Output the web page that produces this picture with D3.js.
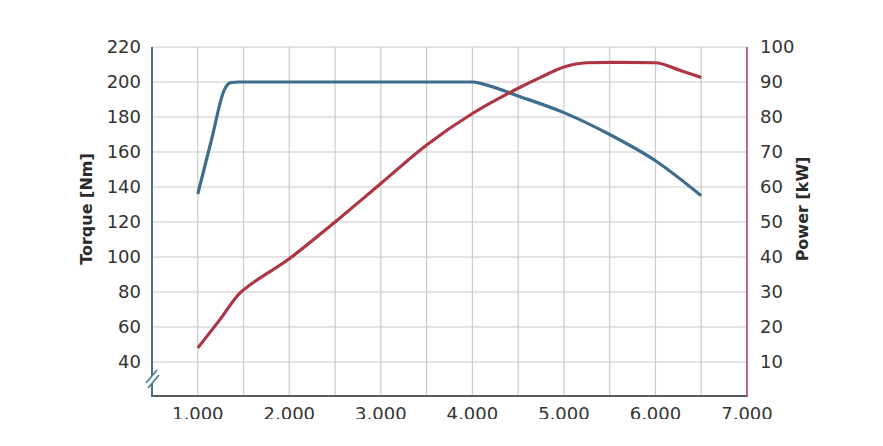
<!DOCTYPE html>
<html>
<head>
<meta charset="utf-8">
<script src="https://cdn.jsdelivr.net/npm/d3@7"></script>
<style>
  html, body { margin: 0; padding: 0; background: #ffffff; }
  svg { display: block; }
</style>
</head>
<body>
<svg id="chart" width="883" height="446"></svg>
<script>
// ---- data ----
const torqueRpm = [1000, 1150, 1290, 1360, 1450, 4000, 4120, 4500, 5000, 5500, 6000, 6500];
const torqueNm  = [136, 167, 195.5, 199.6, 200, 200, 198.8, 192, 182.5, 170, 155, 135];
const powerRpm  = [1000, 1250, 1460, 1500, 2000, 2500, 3000, 3500, 4000, 4500, 4750, 5000, 5250, 5500, 6000, 6250, 6500];
const powerKw   = [14, 22.4, 29.7, 30.6, 39.5, 50, 61, 72, 81, 88.2, 91.4, 94.3, 95.5, 95.6, 95.5, 93.5, 91.3];
const xTicks = [1000, 2000, 3000, 4000, 5000, 6000, 7000];
const xTickLabels = ["1,000", "2,000", "3,000", "4,000", "5,000", "6,000", "7,000"];
const torqueTicks = [40, 60, 80, 100, 120, 140, 160, 180, 200, 220];
const powerTicks = [10, 20, 30, 40, 50, 60, 70, 80, 90, 100];
const xGrid = d3.range(1000, 7001, 500);
const leftTitle = "Torque [Nm]";
const rightTitle = "Power [kW]";

(function () {
// ---- layout ----
const svg = d3.select("#chart");
const pL = 152, pR = 747, pT = 47, pB = 397;
const x = d3.scaleLinear().domain([500, 7000]).range([pL, pR]);
const yT = d3.scaleLinear().domain([20, 220]).range([pB, pT]);
const yP = d3.scaleLinear().domain([0, 100]).range([pB, pT]);

const font = "'DejaVu Sans', sans-serif";

// grid
const g = svg.append("g");
g.selectAll("line.v").data(xGrid).enter().append("line")
  .attr("x1", d => x(d)).attr("x2", d => x(d))
  .attr("y1", pT).attr("y2", pB)
  .attr("stroke", "#cacaca").attr("stroke-width", 1.2);
g.selectAll("line.h").data(torqueTicks).enter().append("line")
  .attr("x1", pL).attr("x2", pR)
  .attr("y1", d => yT(d)).attr("y2", d => yT(d))
  .attr("stroke", "#cacaca").attr("stroke-width", 1.2);

// axes lines
svg.append("line").attr("x1", pL).attr("x2", pR).attr("y1", pB - 1).attr("y2", pB - 1)
  .attr("stroke", "#5a5a5a").attr("stroke-width", 2);
svg.append("line").attr("x1", pL).attr("x2", pL).attr("y1", pT).attr("y2", pB)
  .attr("stroke", "#4d6f88").attr("stroke-width", 2);
svg.append("line").attr("x1", pR).attr("x2", pR).attr("y1", pT).attr("y2", pB)
  .attr("stroke", "#b4525e").attr("stroke-width", 1.6);

// axis break marks
const bm = svg.append("g");
bm.append("polygon").attr("points", `${pL-6},384 ${pL+6},369 ${pL+8},373 ${pL-4},388`).attr("fill", "#ffffff");
bm.append("line").attr("x1", pL - 6).attr("y1", 383).attr("x2", pL + 5).attr("y2", 370)
  .attr("stroke", "#4b8597").attr("stroke-width", 1.8);
bm.append("line").attr("x1", pL - 4).attr("y1", 388).attr("x2", pL + 7).attr("y2", 375)
  .attr("stroke", "#4b8597").attr("stroke-width", 1.8);

// tick labels
svg.selectAll("text.lt").data(torqueTicks).enter().append("text")
  .attr("x", 141).attr("y", d => yT(d)).attr("dy", "0.36em")
  .attr("text-anchor", "end").attr("font-family", font).attr("font-size", 18)
  .attr("fill", "#333333").text(d => d);
svg.selectAll("text.rt").data(powerTicks).enter().append("text")
  .attr("x", 760).attr("y", d => yP(d)).attr("dy", "0.36em")
  .attr("text-anchor", "start").attr("font-family", font).attr("font-size", 18)
  .attr("fill", "#333333").text(d => d);
svg.selectAll("text.xt").data(xTicks).enter().append("text")
  .attr("x", d => x(d)).attr("y", 420)
  .attr("text-anchor", "middle").attr("font-family", font).attr("font-size", 18)
  .attr("fill", "#333333").text((d, i) => xTickLabels[i]);

// axis titles
svg.append("text").attr("transform", "translate(92,209) rotate(-90)")
  .attr("text-anchor", "middle").attr("font-family", font).attr("font-size", 16)
  .attr("font-weight", "bold").attr("fill", "#2a2a2a").text(leftTitle);
svg.append("text").attr("transform", "translate(808,209) rotate(-90)")
  .attr("text-anchor", "middle").attr("font-family", font).attr("font-size", 16)
  .attr("font-weight", "bold").attr("fill", "#2a2a2a").text(rightTitle);

// lines
const torqueData = torqueRpm.map((r, i) => [r, torqueNm[i]]);
const powerData = powerRpm.map((r, i) => [r, powerKw[i]]);
const lineT = d3.line().x(d => x(d[0])).y(d => yT(d[1])).curve(d3.curveMonotoneX);
const lineP = d3.line().x(d => x(d[0])).y(d => yP(d[1])).curve(d3.curveMonotoneX);

svg.append("path").datum(torqueData).attr("d", lineT)
  .attr("fill", "none").attr("stroke", "#3f6d8e").attr("stroke-width", 3.2)
  .attr("stroke-linejoin", "round");
svg.append("path").datum(powerData).attr("d", lineP)
  .attr("fill", "none").attr("stroke", "#ad3544").attr("stroke-width", 3.2)
  .attr("stroke-linejoin", "round");

// bottom crop (reference image is cut below the tick labels)
svg.append("rect").attr("x", 0).attr("y", 419).attr("width", 883).attr("height", 27).attr("fill", "#ffffff");
})();
</script>
</body>
</html>
